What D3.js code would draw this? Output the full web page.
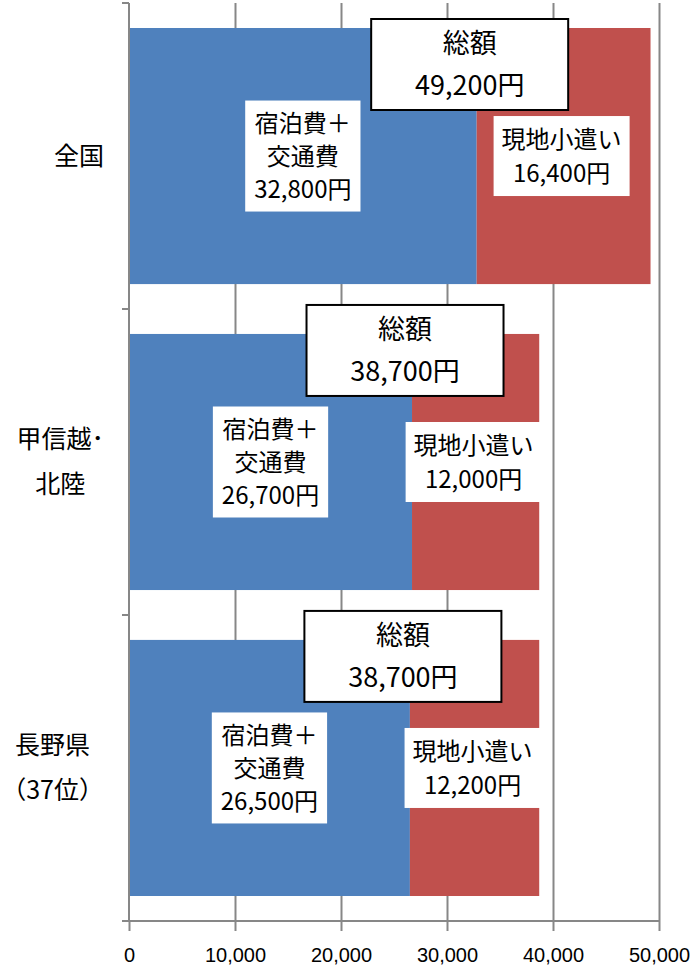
<!DOCTYPE html>
<html>
<head>
<meta charset="utf-8">
<script src="https://cdn.jsdelivr.net/npm/d3@7/dist/d3.min.js"></script>
<style>
  html, body { margin: 0; padding: 0; background: #fff; }
  svg { display: block; }
</style>
</head>
<body>
<svg id="chart" width="693" height="971"></svg>
<script>
// ---- data ----
const categories = ["全国", "甲信越･\n北陸", "長野県\n（37位）"];
const lodgingTransport = [32800, 26700, 26500];
const localSpending = [16400, 12000, 12200];
const totals = [49200, 38700, 38700];
const xTicks = [0, 10000, 20000, 30000, 40000, 50000];
const seriesNames = ["宿泊費＋\n交通費", "現地小遣い"];
const totalName = "総額";
const seriesColors = ["#4F81BD", "#C0504D"];

// ---- layout ----
const W = 693, H = 971;
const plot = { left: 129, right: 659, top: 3, bottom: 921 };
const jp = "'Noto Sans CJK JP', 'Noto Sans', sans-serif";
const gridColor = "#878787";

const svg = d3.select("#chart");

const x = d3.scaleLinear().domain([0, 50000]).range([plot.left, plot.right]);
const y = d3.scaleBand().domain(categories).range([plot.top, plot.bottom])
  .paddingInner(0.163).paddingOuter(0.0817);

const table = categories.map((c, i) => ({ cat: c, s0: lodgingTransport[i], s1: localSpending[i], total: totals[i] }));
const stack = d3.stack().keys(["s0", "s1"])(table);

// gridlines
svg.append("g")
  .attr("transform", `translate(0,${plot.bottom})`)
  .call(d3.axisBottom(x).tickValues(xTicks.slice(1)).tickSize(-(plot.bottom - plot.top)).tickFormat(""))
  .call(g => g.select(".domain").remove())
  .call(g => g.selectAll("line").attr("stroke", gridColor).attr("stroke-width", 2));

// bars
stack.forEach((layer, li) => {
  svg.append("g").selectAll("rect").data(layer).join("rect")
    .attr("x", d => x(d[0]))
    .attr("width", d => x(d[1]) - x(d[0]))
    .attr("y", d => y(d.data.cat))
    .attr("height", y.bandwidth())
    .attr("fill", seriesColors[li]);
});

// x axis
const xAxis = svg.append("g")
  .attr("transform", `translate(0,${plot.bottom})`)
  .call(d3.axisBottom(x).tickValues(xTicks).tickSize(10).tickPadding(17).tickFormat(d3.format(",")));
xAxis.attr("font-size", null).attr("font-family", null);
xAxis.select(".domain").attr("stroke", gridColor).attr("stroke-width", 2)
  .attr("d", `M${plot.left - 7},0H${plot.right}`);
xAxis.selectAll(".tick line").attr("stroke", gridColor).attr("stroke-width", 2);
xAxis.selectAll(".tick text")
  .style("font-family", "'Liberation Sans', Arial, sans-serif")
  .style("font-size", "20px").attr("fill", "#000");

// y axis line and separator ticks
svg.append("line")
  .attr("x1", plot.left).attr("x2", plot.left)
  .attr("y1", plot.top).attr("y2", plot.bottom)
  .attr("stroke", gridColor).attr("stroke-width", 2);
const step = y.step();
const boundaries = categories.map((c, i) => i === 0 ? plot.top : y(c) - y.paddingInner() * step / 2);
boundaries.push(plot.bottom);
svg.append("g").selectAll("line").data(boundaries).join("line")
  .attr("x1", plot.left - 7).attr("x2", plot.left)
  .attr("y1", d => d).attr("y2", d => d)
  .attr("stroke", gridColor).attr("stroke-width", 2);

// category labels: block right-aligned, lines centered within block
categories.forEach(c => {
  const lines = c.split("\n");
  const cy = y(c) + y.bandwidth() / 2;
  const lh = 45;
  const g = svg.append("g");
  const texts = lines.map((ln, i) => g.append("text")
    .attr("y", cy + (i - (lines.length - 1) / 2) * lh)
    .attr("dy", "0.35em")
    .attr("font-family", jp).attr("font-size", 25)
    .attr("text-anchor", "middle").attr("fill", "#000")
    .text(ln));
  const widths = texts.map(t => t.node().getComputedTextLength());
  const bw = d3.max(widths);
  const rightEdge = 104;
  texts.forEach(t => t.attr("x", rightEdge - bw / 2));
});

// helper: label box with multi lines
function labelBox(cx, cy, lines, opts) {
  const g = svg.append("g");
  const rect = g.append("rect");
  const lh = opts.lineHeight;
  const texts = lines.map((ln, i) => g.append("text")
    .attr("x", cx)
    .attr("y", cy + (i - (lines.length - 1) / 2) * lh)
    .attr("dy", "0.36em")
    .attr("text-anchor", "middle")
    .attr("font-family", jp).attr("font-size", opts.fontSize).attr("fill", "#000")
    .text(ln));
  const w = opts.width || (d3.max(texts.map(t => t.node().getComputedTextLength())) + opts.padX * 2);
  const h = opts.height || (lines.length * lh + opts.padY * 2);
  rect.attr("x", cx - w / 2).attr("y", cy - h / 2).attr("width", w).attr("height", h)
    .attr("fill", "#fff")
    .attr("stroke", opts.border ? "#000" : "none")
    .attr("stroke-width", opts.border ? 2 : 0);
}

const fmt = v => d3.format(",")(v) + "円";

table.forEach((d, i) => {
  const top = y(d.cat);
  const cy = top + y.bandwidth() / 2;
  // series 1 label
  labelBox(x(d.s0 / 2), cy, [...seriesNames[0].split("\n"), fmt(d.s0)],
    { fontSize: 24, lineHeight: 33, padX: 9, padY: 6 });
  // series 2 label
  labelBox(x(d.s0 + d.s1 / 2) - 2, cy, [...seriesNames[1].split("\n"), fmt(d.s1)],
    { fontSize: 24, lineHeight: 34, padX: 8, padY: 6 });
});

// total boxes (drawn last, on top)
table.forEach((d, i) => {
  const top = y(d.cat);
  const bh = 91;
  const boxTop = Math.max(plot.top + 16, top - 29);
  labelBox(x(d.s0) - 7, boxTop + bh / 2, [totalName, fmt(d.total)],
    { fontSize: 27, lineHeight: 42, width: 197, height: bh, border: true });
});
</script>
</body>
</html>
